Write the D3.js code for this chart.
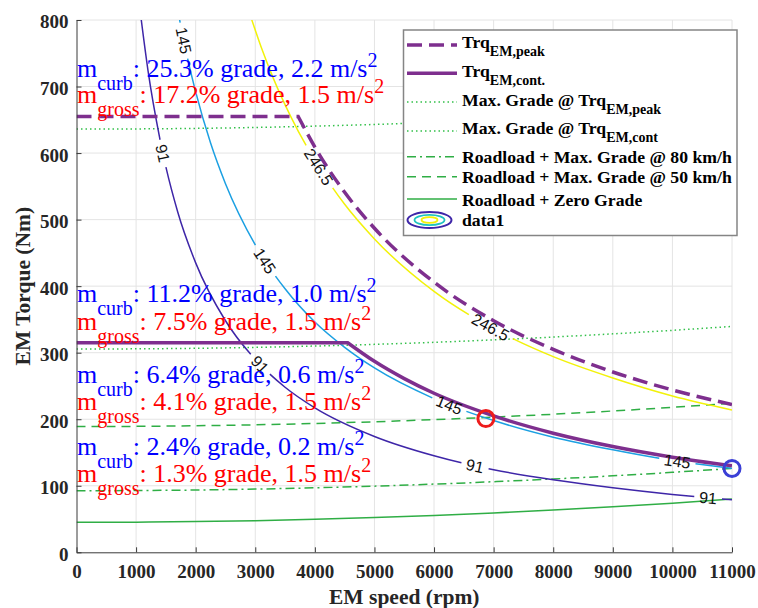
<!DOCTYPE html>
<html><head><meta charset="utf-8">
<script src="https://cdn.jsdelivr.net/npm/d3@7"></script>
<style>
body{margin:0;background:#fff}
svg{display:block}
</style></head><body>
<svg id="chart" width="758" height="608"></svg>
<script>
// ---------- data ----------
const xTicks = [0,1000,2000,3000,4000,5000,6000,7000,8000,9000,10000,11000];
const yTicks = [0,100,200,300,400,500,600,700,800];

const peakRpm = [0, 3720, 4000, 4500, 5000, 6000, 7000, 8000, 9000, 10000, 11000];
const peakTrq = [655, 655, 609, 541, 487, 406, 348, 305, 271, 244, 222];
const contRpm = [0, 4550, 5000, 5500, 6000, 7000, 8000, 9000, 10000, 11000];
const contTrq = [315, 315, 287, 261, 239, 205, 179, 159, 143, 130];

const loadRpm = [0,1000,2000,3000,4000,5000,6000,7000,8000,9000,10000,11000];
const maxGradePeak = [636, 636.3, 637.1, 638.5, 640.5, 643.0, 646.1, 649.8, 654.0, 658.8, 664.1, 670];
const maxGradeCont = [305.5, 305.8, 306.6, 308.0, 310.0, 312.5, 315.6, 319.3, 323.5, 328.3, 333.6, 339.5];
const grade80 = [92.5, 92.8, 93.6, 95.0, 96.9, 99.4, 102.5, 106.1, 110.2, 114.9, 120.2, 126];
const grade50 = [189, 189.3, 190.2, 191.6, 193.6, 196.2, 199.4, 203.2, 207.5, 212.4, 217.9, 224];
const zeroGrade = [45, 45.3, 46.2, 47.6, 49.6, 52.2, 55.4, 59.2, 63.5, 68.4, 73.9, 80];

const c91Rpm = [1080, 1200, 1400, 1700, 2000, 2500, 3000, 3500, 4000, 5000, 6000, 7000, 8000, 9000, 10000, 11000];
const c91Trq = [805, 724, 621, 511, 435, 348, 290, 248, 217, 174, 145, 124, 109, 97, 87, 79];
const c145Rpm = [1720, 1850, 2000, 2250, 2500, 3000, 3500, 4000, 4500, 5000, 6000, 7000, 8000, 9000, 10000, 11000];
const c145Trq = [805, 748, 692, 615, 554, 462, 396, 346, 308, 277, 231, 198, 173, 154, 138, 126];
const c246Rpm = [2920, 3100, 3300, 3600, 4000, 4500, 5000, 6000, 7000, 8000, 9000, 10000, 11000];
const c246Trq = [806, 759, 713, 654, 589, 523, 471, 392, 336, 294, 262, 235, 214];
const contourLevels = ["91", "145", "246.5"];
const lab91Rpm = [1450, 3080, 6690, 10600];
const lab145Rpm = [1800, 3160, 6250, 10080];
const lab246Rpm = [4065, 6950];

const redPoint = [6870, 201];
const bluePoint = [11000, 126];

const curbGrade = ["25.3%", "11.2%", "6.4%", "2.4%"];
const curbAccel = ["2.2", "1.0", "0.6", "0.2"];
const grossGrade = ["17.2%", "7.5%", "4.1%", "1.3%"];
const grossAccel = ["1.5", "1.5", "1.5", "1.5"];

const legendBase = ["Trq", "Trq", "Max. Grade @ Trq", "Max. Grade @ Trq",
  "Roadload + Max. Grade @ 80 km/h", "Roadload + Max. Grade @ 50 km/h", "Roadload + Zero Grade", "data1"];
const legendSub = ["EM,peak", "EM,cont.", "EM,peak", "EM,cont", "", "", "", ""];

// ---------- setup ----------
const SERIF = '"Liberation Serif","Times New Roman",serif';
const SANS = '"Liberation Sans",Arial,Helvetica,sans-serif';
const PURPLE = '#7e2f8e', GREEN = '#2fae45', GREEN_DOT = '#33c04a';
const C91 = '#3e26a8', C145 = '#1ca0e2', C246 = '#f2f20a';

const svg = d3.select('#chart');
const x = d3.scaleLinear().domain([0, 11000]).range([76.5, 732]);
const y = d3.scaleLinear().domain([0, 800]).range([552.3, 20]);

svg.append('defs').append('clipPath').attr('id', 'clip')
  .append('rect').attr('x', x(0)).attr('y', y(800)).attr('width', x(11000) - x(0)).attr('height', y(0) - y(800));

// grid
const grid = svg.append('g');
grid.selectAll('.vg').data(xTicks.filter(d => d > 0)).enter().append('line')
  .attr('x1', d => x(d)).attr('x2', d => x(d)).attr('y1', y(0)).attr('y2', y(800))
  .attr('stroke', '#e4e4e4').attr('stroke-width', 1);
grid.selectAll('.hg').data(yTicks.filter(d => d > 0)).enter().append('line')
  .attr('y1', d => y(d)).attr('y2', d => y(d)).attr('x1', x(0)).attr('x2', x(11000))
  .attr('stroke', '#e4e4e4').attr('stroke-width', 1);

const plot = svg.append('g').attr('clip-path', 'url(#clip)');
const lineLin = d3.line().x(d => x(d[0])).y(d => y(d[1]));
const lineMono = d3.line().x(d => x(d[0])).y(d => y(d[1])).curve(d3.curveMonotoneX);
const zip = (a, b) => a.map((v, i) => [v, b[i]]);

function drawLoad(vals, color, dash, w) {
  plot.append('path').attr('d', lineMono(zip(loadRpm, vals)))
    .attr('fill', 'none').attr('stroke', color).attr('stroke-width', w)
    .attr('stroke-dasharray', dash);
}
drawLoad(maxGradePeak, GREEN_DOT, '1.5,3', 1.5);
drawLoad(maxGradeCont, GREEN_DOT, '1.5,3', 1.5);
drawLoad(grade80, GREEN, '9,4,2,4', 1.5);
drawLoad(grade50, GREEN, '9,6', 1.5);
drawLoad(zeroGrade, GREEN, null, 1.5);

// contours
const labelLayer = svg.append('g');
function drawContour(rpm, trq, labRpm, text, color) {
  const path = plot.append('path').attr('d', lineMono(zip(rpm, trq)))
    .attr('fill', 'none').attr('stroke', color).attr('stroke-width', 1.5);
  const node = path.node();
  const L = node.getTotalLength();
  const N = 1200;
  const samples = d3.range(N + 1).map(i => node.getPointAtLength(L * i / N));
  const items = labRpm.map(lr => {
    const tx = x(lr);
    let best = 0, bd = 1e9;
    samples.forEach((p, i) => { const d = Math.abs(p.x - tx); if (d < bd) { bd = d; best = i; } });
    const l = L * best / N;
    const p = node.getPointAtLength(l);
    const p1 = node.getPointAtLength(Math.max(0, l - 4));
    const p2 = node.getPointAtLength(Math.min(L, l + 4));
    const ang = Math.atan2(p2.y - p1.y, p2.x - p1.x) * 180 / Math.PI;
    const t = labelLayer.append('text')
      .attr('transform', `translate(${p.x},${p.y}) rotate(${ang})`)
      .attr('text-anchor', 'middle').attr('dy', '0.36em')
      .attr('font-family', SANS).attr('font-size', 16).attr('fill', '#111')
      .text(text);
    const w = t.node().getComputedTextLength();
    return { l, half: w / 2 + 5 };
  }).sort((a, b) => a.l - b.l);
  const dash = [];
  let cur = 0;
  items.forEach(it => {
    dash.push(Math.max(0, it.l - it.half - cur), 2 * it.half);
    cur = it.l + it.half;
  });
  dash.push(Math.max(0, L - cur) + 5, L + 10);
  path.attr('stroke-dasharray', dash.join(','));
}
drawContour(c91Rpm, c91Trq, lab91Rpm, contourLevels[0], C91);
drawContour(c145Rpm, c145Trq, lab145Rpm, contourLevels[1], C145);
drawContour(c246Rpm, c246Trq, lab246Rpm, contourLevels[2], C246);

// torque curves (flat part straight, then smooth)
function torquePath(rpm, trq) {
  const pts = zip(rpm, trq);
  return lineLin(pts.slice(0, 2)) + lineMono(pts.slice(1)).replace(/^M/, 'L');
}
plot.append('path').attr('d', torquePath(peakRpm, peakTrq))
  .attr('fill', 'none').attr('stroke', PURPLE).attr('stroke-width', 3.5).attr('stroke-dasharray', '15,7');
plot.append('path').attr('d', torquePath(contRpm, contTrq))
  .attr('fill', 'none').attr('stroke', PURPLE).attr('stroke-width', 3.5);

// markers
svg.append('circle').attr('cx', x(redPoint[0])).attr('cy', y(redPoint[1])).attr('r', 8)
  .attr('fill', 'none').attr('stroke', '#ee1c1c').attr('stroke-width', 3);
svg.append('circle').attr('cx', x(bluePoint[0])).attr('cy', y(bluePoint[1])).attr('r', 8)
  .attr('fill', 'none').attr('stroke', '#3b3fd6').attr('stroke-width', 3);

// axes
const xAxis = svg.append('g').attr('transform', `translate(0,${y(0)})`)
  .call(d3.axisBottom(x).tickValues(xTicks).tickFormat(d3.format('d')).tickSizeInner(-5).tickSizeOuter(0).tickPadding(12));
const yAxis = svg.append('g').attr('transform', `translate(${x(0)},0)`)
  .call(d3.axisLeft(y).tickValues(yTicks).tickFormat(d3.format('d')).tickSizeInner(-5).tickSizeOuter(0).tickPadding(8));
[xAxis, yAxis].forEach(a => {
  a.selectAll('path.domain').attr('stroke', '#3a3a3a').attr('stroke-width', 1);
  a.selectAll('.tick line').attr('stroke', '#3a3a3a');
  a.selectAll('text').attr('font-family', SERIF).attr('font-size', 19).attr('font-weight', 'bold').attr('fill', '#262626');
});
yAxis.selectAll('text').attr('dy', '0.42em');

svg.append('text').attr('x', (x(0) + x(11000)) / 2).attr('y', 604).attr('text-anchor', 'middle')
  .attr('font-family', SERIF).attr('font-size', 21.5).attr('font-weight', 'bold').attr('fill', '#262626')
  .text('EM speed (rpm)');
svg.append('text').attr('transform', `translate(30,${(y(0) + y(800)) / 2}) rotate(-90)`).attr('text-anchor', 'middle')
  .attr('font-family', SERIF).attr('font-size', 21.5).attr('font-weight', 'bold').attr('fill', '#262626')
  .text('EM Torque (Nm)');

// annotations
const curbBase = [77, 302, 383, 455];
const grossBase = [103, 330, 410, 482];
function annot(yb, color, sub, grade, acc) {
  const t = svg.append('text').attr('x', 77).attr('y', yb)
    .attr('font-family', SERIF).attr('font-size', 26).attr('fill', color);
  t.append('tspan').text('m');
  t.append('tspan').attr('dy', 13).attr('font-size', 20).text(sub);
  t.append('tspan').attr('dy', -13).text(`: ${grade} grade, ${acc} m/s`);
  t.append('tspan').attr('dy', -10).attr('font-size', 20).text('2');
}
curbGrade.forEach((g, i) => {
  annot(curbBase[i], '#0000ff', 'curb', g, curbAccel[i]);
  annot(grossBase[i], '#ff0000', 'gross', grossGrade[i], grossAccel[i]);
});

// legend
const lg = svg.append('g');
lg.append('rect').attr('x', 403.5).attr('y', 30).attr('width', 333.5).attr('height', 205.5)
  .attr('fill', '#fff').attr('stroke', '#858585').attr('stroke-width', 1.5);
const rowBase = [48.3, 76.7, 106, 134, 162.7, 183.3, 205.7, 226];
const rowLine = [45, 73.3, 102, 131, 156.7, 176.7, 199, 220];
const rowStyle = [
  [PURPLE, 3.5, '15,7'], [PURPLE, 3.5, null], [GREEN_DOT, 1.5, '1.5,3'], [GREEN_DOT, 1.5, '1.5,3'],
  [GREEN, 1.5, '9,4,2,4'], [GREEN, 1.5, '9,6'], [GREEN, 1.5, null]
];
legendBase.forEach((txt, i) => {
  if (i < 7) {
    const s = rowStyle[i];
    lg.append('line').attr('x1', 407).attr('x2', 457).attr('y1', rowLine[i]).attr('y2', rowLine[i])
      .attr('stroke', s[0]).attr('stroke-width', s[1]).attr('stroke-dasharray', s[2]);
  } else {
    const cx = 429.5, cy = rowLine[i];
    [[22, 8, C91, 2], [15, 5.2, '#1ec3c0', 1.8], [8, 2.8, C246, 1.8]].forEach(e => {
      lg.append('ellipse').attr('cx', cx).attr('cy', cy).attr('rx', e[0]).attr('ry', e[1])
        .attr('fill', 'none').attr('stroke', e[2]).attr('stroke-width', e[3]);
    });
  }
  const t = lg.append('text').attr('x', 462).attr('y', rowBase[i])
    .attr('font-family', SERIF).attr('font-size', 17.7).attr('font-weight', 'bold').attr('fill', '#000');
  t.append('tspan').text(txt);
  if (legendSub[i]) t.append('tspan').attr('dy', 8).attr('font-size', 14).text(legendSub[i]);
});
</script>
</body></html>
